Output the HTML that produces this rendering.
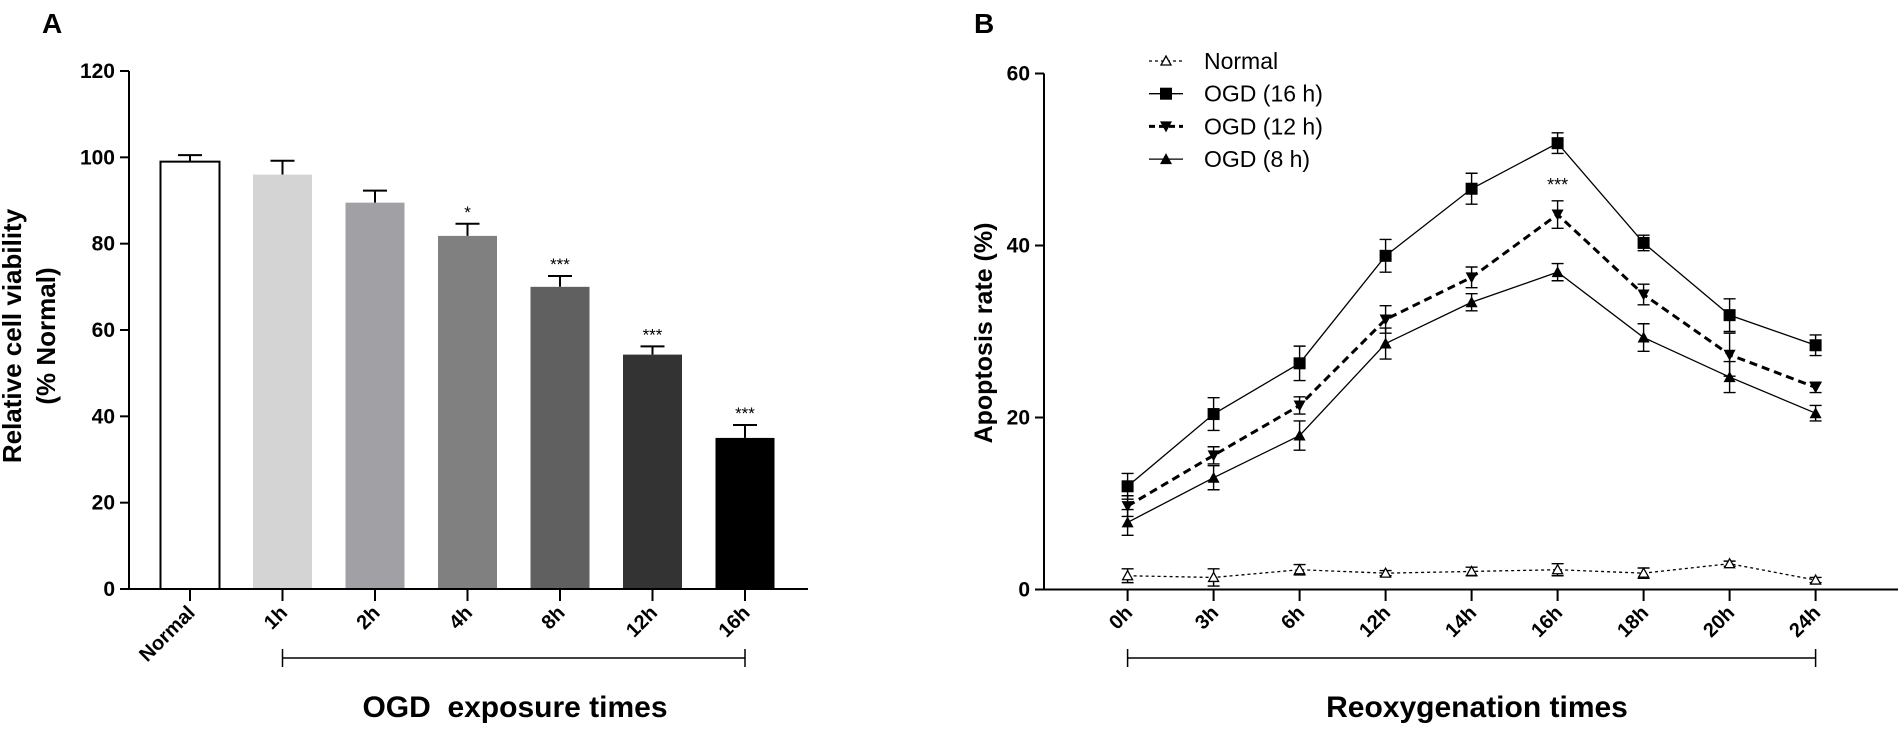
<!DOCTYPE html>
<html><head><meta charset="utf-8"><style>
html,body{margin:0;padding:0;background:#fff}
svg{display:block;font-family:"Liberation Sans Narrow","Liberation Sans",sans-serif}
</style></head><body>
<svg id="c" width="1898" height="731" viewBox="0 0 1898 731" xmlns="http://www.w3.org/2000/svg"></svg>
<script>
// Panel A data
const catsA = ["Normal","1h","2h","4h","8h","12h","16h"];
const valsA = [99,96,89.5,81.8,70,54.3,35];
const errA = [1.5,3.2,2.8,2.8,2.5,1.9,3];
const starsA = ["","","","*","***","***","***"];
const colorsA = ["#ffffff","#d4d4d4","#a1a0a4","#808080","#606060","#333333","#000000"];
const ticksA = [0,20,40,60,80,100,120];
// Panel B data
const catsB = ["0h","3h","6h","12h","14h","16h","18h","20h","24h"];
const normalV = [1.6,1.4,2.3,1.9,2.1,2.3,1.9,3.0,1.1];
const normalE = [0.8,1.0,0.6,0.3,0.5,0.7,0.6,0.3,0.3];
const ogd16V = [12.0,20.4,26.3,38.8,46.6,51.9,40.3,31.9,28.4];
const ogd16E = [1.5,1.9,2.0,1.9,1.8,1.2,0.9,1.9,1.2];
const ogd12V = [9.7,15.6,21.4,31.4,36.3,43.6,34.3,27.3,23.5];
const ogd12E = [1.2,1.0,1.0,1.6,1.2,1.6,1.2,2.5,0.6];
const ogd8V = [7.8,13.0,17.9,28.6,33.4,36.9,29.3,24.7,20.5];
const ogd8E = [1.5,1.4,1.7,1.8,1.0,1.0,1.6,1.8,0.9];
const ticksB = [0,20,40,60];

const NS="http://www.w3.org/2000/svg";
const svg=document.getElementById('c');
function el(tag,attrs,parent,text){const e=document.createElementNS(NS,tag);for(const k in attrs)e.setAttribute(k,attrs[k]);if(text!==undefined)e.textContent=text;(parent||svg).appendChild(e);return e;}

// ---------- Panel A ----------
const yA=v=>589-(v/120)*518;
const xA=i=>190+i*92.5;
const gA=el('g',{});


let t=el('text',{x:42,y:33,'font-size':28,'font-weight':'bold','font-family':'Liberation Sans'},gA,'A');

catsA.forEach((c,i)=>{
  const x=xA(i),v=valsA[i],w=59;
  const top=yA(v+errA[i]);
  let l=el('line',{x1:x,x2:x,y1:yA(v),y2:top,stroke:'#000','stroke-width':2},gA);
  
  l=el('line',{x1:x-12,x2:x+12,y1:top,y2:top,stroke:'#000','stroke-width':2},gA);
  
  const r=el('rect',{x:x-w/2,y:yA(v),width:w,height:yA(0)-yA(v),fill:colorsA[i],stroke:i==0?'#000':'none','stroke-width':2},gA);
  
  if(starsA[i]){const s=el('text',{x:x,y:top-6,'text-anchor':'middle','font-size':17,'font-family':'Liberation Sans'},gA,starsA[i]);
    }
  l=el('line',{x1:x,x2:x,y1:589,y2:601,stroke:'#000','stroke-width':2},gA);
  
  const tl=el('text',{x:0,y:0,'text-anchor':'end','font-size':20,'font-weight':'bold',transform:`translate(${x+6},${614}) rotate(-45)`},gA,c);
  
});
ticksA.forEach(v=>{
  let l=el('line',{x1:120,x2:129,y1:yA(v),y2:yA(v),stroke:'#000','stroke-width':2},gA);
  
  const tl=el('text',{x:115,y:yA(v)+7,'text-anchor':'end','font-size':21,'font-weight':'bold'},gA,v);
  
});
let ax=el('line',{x1:129,x2:129,y1:yA(120),y2:590,stroke:'#000','stroke-width':2},gA);

ax=el('line',{x1:128,x2:808,y1:589,y2:589,stroke:'#000','stroke-width':2},gA);

let br=el('path',{d:`M${xA(1)},649 V667 M${xA(1)},658 H${xA(6)} M${xA(6)},649 V667`,stroke:'#000','stroke-width':1.5,fill:'none'},gA);

t=el('text',{x:0,y:0,'text-anchor':'middle','font-size':26,'font-weight':'bold','font-family':'Liberation Sans',transform:'translate(21,336) rotate(-90)'},gA,'Relative cell viability');

t=el('text',{x:0,y:0,'text-anchor':'middle','font-size':26,'font-weight':'bold','font-family':'Liberation Sans',transform:'translate(55,336) rotate(-90)'},gA,'(% Normal)');

t=el('text',{x:515,y:717,'text-anchor':'middle','font-size':30,'font-weight':'bold'},gA,'OGD\u00a0 exposure times');


// ---------- Panel B ----------
const yB=v=>589.5-(v/60)*516;
const xB=i=>1127.6+i*86;
const gB=el('g',{});


t=el('text',{x:974,y:33,'font-size':28,'font-weight':'bold','font-family':'Liberation Sans'},gB,'B');

ticksB.forEach(v=>{
  let l=el('line',{x1:1035,x2:1044,y1:yB(v),y2:yB(v),stroke:'#000','stroke-width':2},gB);
  
  const tl=el('text',{x:1030,y:yB(v)+7,'text-anchor':'end','font-size':21,'font-weight':'bold'},gB,v);
  
});
ax=el('line',{x1:1044,x2:1044,y1:yB(60),y2:590,stroke:'#000','stroke-width':2},gB);

ax=el('line',{x1:1043,x2:1898,y1:589.5,y2:589.5,stroke:'#000','stroke-width':2},gB);

catsB.forEach((c,i)=>{
  const x=xB(i);
  let l=el('line',{x1:x,x2:x,y1:589,y2:601,stroke:'#000','stroke-width':2},gB);
  
  const tl=el('text',{x:0,y:0,'text-anchor':'end','font-size':20,'font-weight':'bold',transform:`translate(${x+6},${614}) rotate(-45)`},gB,c);
  
});
function marker(type,x,y,g){
  let m;
  if(type==='square') m=el('rect',{x:x-6,y:y-6,width:12,height:12,fill:'#000'},g);
  else if(type==='down') m=el('path',{d:`M${x-6},${y-5} L${x+6},${y-5} L${x},${y+6} Z`,fill:'#000'},g);
  else if(type==='up') m=el('path',{d:`M${x-6},${y+5} L${x+6},${y+5} L${x},${y-6} Z`,fill:'#000'},g);
  else m=el('path',{d:`M${x-5},${y+4} L${x+5},${y+4} L${x},${y-5} Z`,fill:'#fff',stroke:'#000','stroke-width':1.3},g);
  return m;
}
function series(name,vals,errs,type,dash,width){
  const g=el('g',{},gB);
  
  
  const d=vals.map((v,i)=>(i?'L':'M')+xB(i)+','+yB(v)).join(' ');
  const p=el('path',{d:d,fill:'none',stroke:'#000','stroke-width':width,'stroke-dasharray':dash},g);
  
  vals.forEach((v,i)=>{
    const x=xB(i),e=errs[i];
    const eb=el('path',{d:`M${x},${yB(v-e)} V${yB(v+e)} M${x-6},${yB(v+e)} H${x+6} M${x-6},${yB(v-e)} H${x+6}`,stroke:'#000','stroke-width':1.4,fill:'none'},g);
    
    const m=marker(type,x,yB(v),g);
    
  });
}
series('normal',normalV,normalE,'open','3,3',1.3);
series('ogd-16h',ogd16V,ogd16E,'square','none',1.3);
series('ogd-12h',ogd12V,ogd12E,'down','8,5',3);
series('ogd-8h',ogd8V,ogd8E,'up','none',1.3);
t=el('text',{x:xB(5),y:yB(ogd12V[5]+ogd12E[5])-10,'text-anchor':'middle','font-size':18,'font-family':'Liberation Sans'},gB,'***');

br=el('path',{d:`M${xB(0)},649 V667 M${xB(0)},658 H${xB(8)} M${xB(8)},649 V667`,stroke:'#000','stroke-width':1.5,fill:'none'},gB);

t=el('text',{x:0,y:0,'text-anchor':'middle','font-size':25,'font-weight':'bold','font-family':'Liberation Sans',transform:'translate(992,333) rotate(-90)'},gB,'Apoptosis rate (%)');

t=el('text',{x:1477,y:717,'text-anchor':'middle','font-size':30,'font-weight':'bold'},gB,'Reoxygenation times');

// legend
const legNames=['Normal','OGD (16 h)','OGD (12 h)','OGD (8 h)'];
const legTypes=['open','square','down','up'];
const legDash=['3,3','none','6,4','none'];
const legW=[1.3,1.3,3,1.3];
const lg=el('g',{},gB);

legNames.forEach((n,i)=>{
  const y=61+i*32.7;
  const e=el('g',{},lg);
  
  el('line',{x1:1149,x2:1183,y1:y,y2:y,stroke:'#000','stroke-width':legW[i],'stroke-dasharray':legDash[i]},e);
  marker(legTypes[i],1166,y,e);
  el('text',{x:1204,y:y+8,'font-size':23},e,n);
});
</script>
</body></html>
